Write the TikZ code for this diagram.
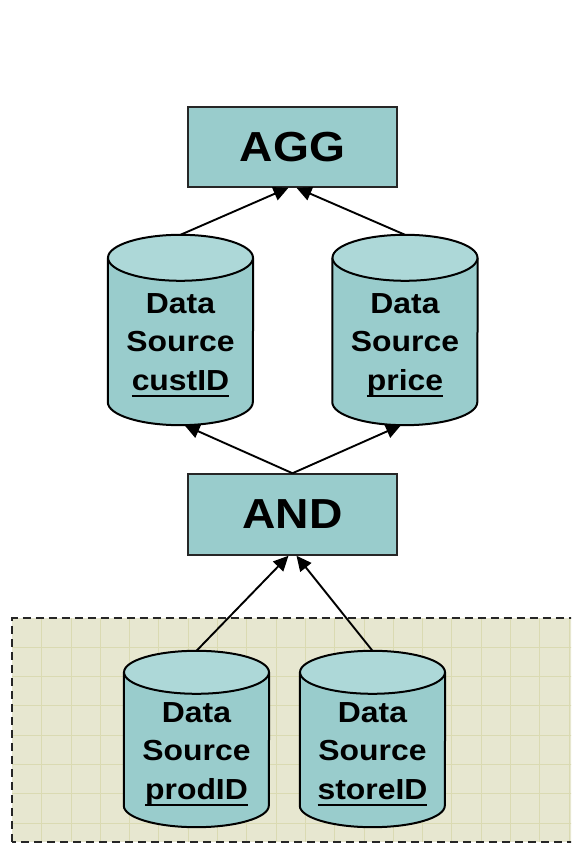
\documentclass[tikz,border=0pt]{standalone}
\usepackage{fontspec}
\setmainfont{Liberation Sans}[FakeStretch=1.1]
\usetikzlibrary{arrows.meta,calc}

\definecolor{tealfill}{HTML}{99CCCC}
\definecolor{tealtop}{HTML}{ADD8D8}
\definecolor{paper}{HTML}{E7E7D0}
\definecolor{paperline}{HTML}{DADAB2}

% bold underline for the field name of a data source
\newcommand\fieldname[1]{\sbox0{#1}\rlap{\rule[-7pt]{\wd0}{2.5pt}}\usebox0}

\tikzset{
  x=1pt, y=1pt,
  opbox/.style={draw=black!85, line width=1.5pt, fill=tealfill,
    minimum width=209pt, minimum height=80pt, inner sep=0pt,
    font=\fontsize{42}{50}\selectfont\bfseries},
  drumframe/.style={inner sep=0pt, minimum width=145pt},
  drumlabel/.style={inner sep=0pt, align=center,
    font=\fontsize{29}{38.5}\selectfont\bfseries},
  flow/.style={line width=1.9pt, -{Triangle[length=15pt,width=14pt]}},
}

% data source drum: name, x, y, height, end radius, text
\newcommand\drum[6]{%
  \node[drumframe, minimum height=#4pt] (#1) at (#2,#3) {};
  \filldraw[fill=tealfill, line width=2pt]
    ([yshift=-#5pt]#1.north west) -- ([yshift=#5pt]#1.south west)
    arc[start angle=180, end angle=360, x radius=72.5pt, y radius=#5pt]
    -- ([yshift=-#5pt]#1.north east);
  \filldraw[fill=tealtop, line width=2pt]
    ([yshift=-#5pt]#1.north) ellipse[x radius=72.5pt, y radius=#5pt];
  \node[drumlabel] (#1-text) at ([yshift=-15pt]#1.center)
    {\rule{0pt}{22pt}Data\\Source\\\fieldname{#6}\rule[-8pt]{0pt}{8pt}};
}

\begin{document}
\begin{tikzpicture}
\useasboundingbox (0,0) rectangle (571,843);

% squared paper panel behind the lower sources
\begin{scope}
  \clip (0,0) rectangle (571,843);
  \fill[paper] (12.4,1.3) rectangle (590,225);
  \foreach \k in {1,...,19}
    \draw[paperline, line width=1pt] (12.4+29.3*\k,1.3) -- (12.4+29.3*\k,225);
  \foreach \k in {1,...,7}
    \draw[paperline, line width=1pt] (12.4,225-29.3*\k) -- (590,225-29.3*\k);
  \draw[black!85, line width=2pt, dash pattern=on 8pt off 5pt]
    (12.4,1.3) rectangle (590,225);
\end{scope}

% operators
\node[opbox] (agg) at (292.5,696) {AGG};
\node[opbox, minimum height=81pt] (and) at (292.5,328.5) {AND};

% data sources
\drum{c1}{180.5}{513}{190}{23}{custID}
\drum{c2}{405}{513}{190}{23}{price}
\drum{c3}{196.5}{104}{176}{21.5}{prodID}
\drum{c4}{372.5}{104}{176}{21.5}{storeID}

% flow arrows
\draw[flow] (c1.north) -- ([xshift=-4pt]agg.south);
\draw[flow] (c2.north) -- ([xshift=4pt]agg.south);
\draw[flow] (and.north) -- ([xshift=4pt]c1.south);
\draw[flow] (and.north) -- ([xshift=-4pt]c2.south);
\draw[flow] (c3.north) -- ([xshift=-4pt]and.south);
\draw[flow] (c4.north) -- ([xshift=4pt]and.south);
\end{tikzpicture}
\end{document}
